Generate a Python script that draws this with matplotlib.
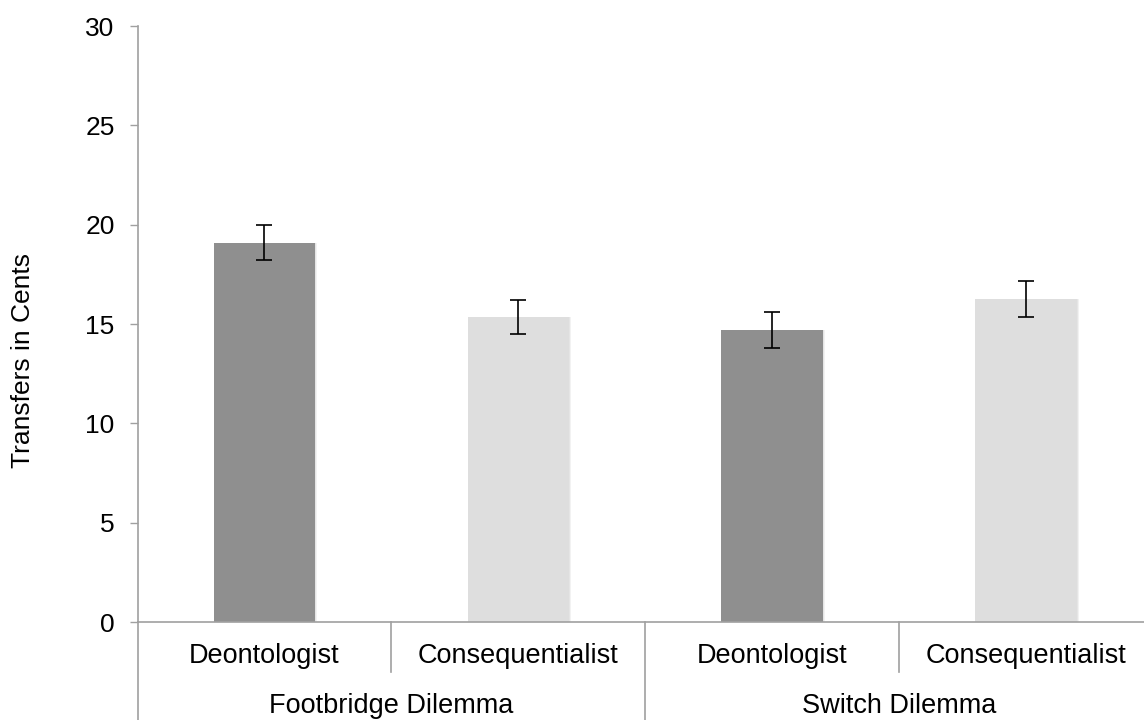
import numpy as np
import matplotlib.pyplot as plt
from matplotlib.transforms import blended_transform_factory

conditions = ['Deontologist', 'Consequentialist', 'Deontologist', 'Consequentialist']
dilemmas = ['Footbridge Dilemma', 'Switch Dilemma']
transfers = [19.1, 15.35, 14.7, 16.25]
errors = [0.88, 0.85, 0.89, 0.9]
bar_colors = ['#8f8f8f', '#dedede', '#8f8f8f', '#dedede']
yticks = [0, 5, 10, 15, 20, 25, 30]

AXIS_GRAY = '#a0a0a0'
FONT = 'Liberation Sans'


def plot_data():
    fig = plt.figure(figsize=(11.44, 7.2), dpi=100)
    # axes run slightly past the right edge, like the original
    ax = fig.add_axes([137.5 / 1144, 98 / 720, (1153 - 137.5) / 1144, 596 / 720])
    x = np.arange(len(transfers))

    # soft shadow behind bars
    ax.bar(x + 0.008, transfers, width=0.40, color='#000000', alpha=0.05, zorder=1)
    ax.bar(x + 0.004, transfers, width=0.40, color='#000000', alpha=0.05, zorder=1)
    ax.bar(x, transfers, width=0.40, color=bar_colors, zorder=2)
    ax.errorbar(x, transfers, yerr=errors, fmt='none', ecolor='black',
                elinewidth=1.2, capsize=6, capthick=1.2, zorder=3)

    ax.set_xlim(-0.5, 3.5)
    ax.set_ylim(0, 30)
    ax.set_yticks(yticks)
    ax.set_yticklabels([str(t) for t in yticks], fontsize=19, family=FONT)
    ax.set_xticks([])
    ax.tick_params(axis='y', direction='out', length=5.5, width=1,
                   color=AXIS_GRAY, pad=11)
    for side in ['top', 'right']:
        ax.spines[side].set_visible(False)
    for side in ['left', 'bottom']:
        ax.spines[side].set_color(AXIS_GRAY)
        ax.spines[side].set_linewidth(1.2)

    fig.text(23 / 1144, 1 - 360 / 720, 'Transfers in Cents', rotation=90,
             ha='center', va='center', fontsize=19, family=FONT)

    # two-level category axis
    trans = blended_transform_factory(ax.transData, ax.transAxes)
    px = 1 / 596
    for i, label in enumerate(conditions):
        ax.text(i, -34 * px, label, transform=trans, ha='center', va='center',
                fontsize=19.5, family=FONT)
    for j, label in enumerate(dilemmas):
        ax.text(2 * j + 0.5, -84 * px, label, transform=trans, ha='center',
                va='center', fontsize=19.5, family=FONT)
    for xs in [0.5, 2.5]:
        ax.plot([xs, xs], [0, -50 * px], transform=trans, color=AXIS_GRAY,
                lw=1.2, clip_on=False)
    for xs in [-0.5, 1.5, 3.5]:
        ax.plot([xs, xs], [0, -110 * px], transform=trans, color=AXIS_GRAY,
                lw=1.2, clip_on=False)

    fig.savefig('out.png', dpi=100)


def main():
    plot_data()


if __name__ == '__main__':
    main()
